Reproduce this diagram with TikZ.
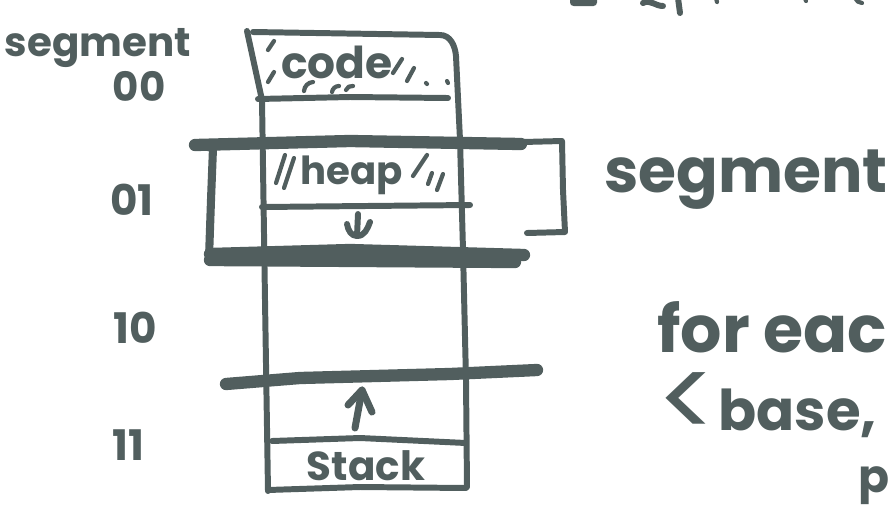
\documentclass[tikz,border=0pt]{standalone}
\usepackage{fontspec}
\setmainfont{Poppins}
\definecolor{ink}{RGB}{81,94,94}
\tikzset{
  pen/.style={draw=ink, line width=3.4pt, line cap=round, line join=round},
  heavy/.style={draw=ink, line width=7pt, line cap=round, line join=round},
  thin/.style={draw=ink, line width=2.4pt, line cap=round, line join=round},
  hand/.style={text=ink, inner sep=0pt, font=\bfseries\fontsize{#1}{#1}\selectfont},
  hand/.default=24pt
}
\begin{document}
\begin{tikzpicture}[x=0.02cm, y=-0.02cm]
\useasboundingbox (0,0) rectangle (890,508);
\clip (0,0) rectangle (890,508);

% column outline
\draw[pen] (247,31) -- (262,100) -- (265,300) -- (268,491);
\draw[pen] (253,32) -- (440,35) to[out=0,in=95] (456,56) -- (460,140) -- (463,250) -- (466,380) -- (467,487);
\draw[pen] (268,490) -- (360,487) -- (466,488);

% inner dividers
\draw[pen] (258,99) -- (350,97) -- (448,98);
\draw[pen] (262,207) -- (470,205);
\draw[pen] (272,441) -- (360,438) -- (466,443);

% heavy boundaries of the segments
\draw[heavy] (195,145) -- (350,141) -- (521,144);
\draw[heavy] (210,254) -- (350,250) -- (524,255);
\draw[heavy] (210,260) -- (515,262);
\draw[heavy] (226,384) -- (300,378) -- (450,374) -- (537,370);

% bracket around segment 01
\draw[draw=ink, line width=4.6pt, line cap=round, line join=round] (203,146) -- (213,148) -- (211,200) -- (209,258);
\draw[pen] (523,142) -- (562,141) -- (563,190) -- (565,232) -- (527,233);

% hatching in the code block
\draw[thin] (268,50) -- (274,41);
\draw[thin] (268,82) -- (274,72);
\draw[thin] (393,73) -- (402,59);
\draw[thin] (407,81) -- (414,68);
\draw[thin] (426,83) -- (427,84);
\draw[thin] (447,81) -- (448,83);
\draw[thin] (304,91) to[bend left=40] (313,82);
\draw[thin] (332,92) to[bend left=40] (339,86);
\draw[thin] (346,90) to[bend left=40] (353,86);

% hatching in the heap block
\draw[thin] (276,183) -- (285,155);
\draw[thin] (284,188) -- (294,158);
\draw[thin] (413,176) -- (427,155);
\draw[thin] (428,184) -- (432,173);
\draw[thin] (437,190) -- (443,174);

% growth arrows
\coordinate (hs) at (358,214);
\coordinate (he) at (357,236);
\draw[pen] (hs) -- (he);
\draw[pen] (347,224) to[out=-80,in=180] (he) to[out=0,in=-110] (370,222);
\coordinate (ss) at (355,428);
\coordinate (se) at (362,390);
\draw[draw=ink, line width=4pt, line cap=round, line join=round] (ss) -- (se);
\draw[draw=ink, line width=4pt, line cap=round, line join=round] (348,405) -- (se) -- (372,412);

% fragments of writing running off the top edge
\fill[ink, rounded corners=2pt] (570,-4) rectangle (597,6);
\draw[pen] (643,3) to[out=30,in=180] (663,6);
\draw[pen] (678,-2) -- (680,13);
\draw[thin] (716,-2) -- (717,2);
\draw[thin] (805,-2) -- (806,1);
\draw[thin] (855,-2) to[out=-60,in=180] (862,3);

% block labels
\node[hand=25pt] (code) at (337,62) {code};
\node[hand=22pt] (heap) at (352,175) {heap};
\node[hand=23pt] (stack) at (366,466) {Stack};

% segment numbers
\node[hand=23pt] (segL) at (98,48) {segment};
\node[hand=23pt] (s00) at (139,86) {00};
\node[hand=24pt] (s01) at (132,200) {01};
\node[hand=24pt] (s10) at (135,328) {10};
\node[hand=24pt] (s11) at (128,445) {11};

% notes on the right
\node[hand=35pt] (segR) at (746,180) {segment};
\node[hand=37pt, anchor=base west] (each) at (657,352) {for eac};
\node[text=ink, inner sep=0pt, font=\fontsize{64pt}{64pt}\selectfont] (lt) at (688,406) {<};
\node[hand=32pt, anchor=base west] (pair) at (718,430) {base,};
\node[hand=26pt, anchor=base west] (perm) at (858,492) {p};
\end{tikzpicture}
\end{document}
